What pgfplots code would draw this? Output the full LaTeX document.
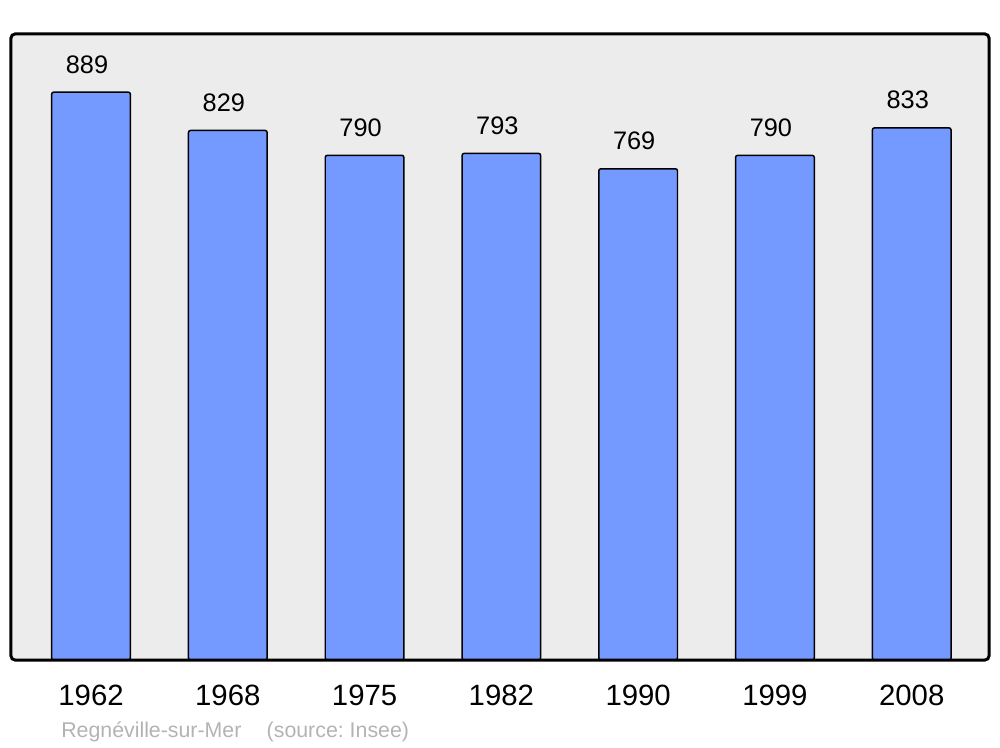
\documentclass[border=0pt]{standalone}
\usepackage{fontspec}
\setmainfont{Liberation Sans}
\usepackage{pgfplots}
\pgfplotsset{compat=1.18}
\definecolor{bgc}{HTML}{ECECEC}
\definecolor{barc}{HTML}{7499FF}
\definecolor{foot}{HTML}{B3B3B3}
\frenchspacing
\begin{document}
\begin{tikzpicture}
\begin{axis}[
  scale only axis,
  clip=false,
  width=733.5pt, height=469.5pt,
  xmin=-0.585, xmax=6.565,
  ymin=0, ymax=980,
  axis line style={draw=none},
  axis background/.style={fill=bgc},
  ytick=\empty,
  xtick={0,1,2,3,4,5,6},
  xticklabels={1962,1968,1975,1982,1990,1999,2008},
  major tick length=0pt,
  xticklabel style={font=\fontsize{22}{22}\selectfont, anchor=base, yshift=-33.75pt, inner sep=0pt},
  /pgf/number format/assume math mode=true,
  /pgf/number format/1000 sep={},
  ybar,
  bar width=0.575,
  nodes near coords,
  every node near coord/.append style={font=\fontsize{19}{19}\selectfont, anchor=base, yshift=14.25pt, xshift=-3pt, inner sep=0pt},
]
\addplot[fill=barc, draw=black, line width=1.1pt, rounded corners=1.5pt] coordinates {
  (0,889) (1,829) (2,790) (3,793) (4,769) (5,790) (6,833)
};
\draw[line width=2.25pt, rounded corners=3pt] (rel axis cs:0,0) rectangle (rel axis cs:1,1);
\node[anchor=base west, font=\fontsize{16}{16}\selectfont, text=foot, inner sep=0pt] at (rel axis cs:0,0) [xshift=37.5pt, yshift=-57.75pt] {Regnéville-sur-Mer\hspace{19pt}(source: Insee)};
\end{axis}
\path ([xshift=-8.25pt,yshift=-65.25pt]current axis.south west) rectangle ([xshift=8.25pt,yshift=25.5pt]current axis.north east);
\end{tikzpicture}
\end{document}
